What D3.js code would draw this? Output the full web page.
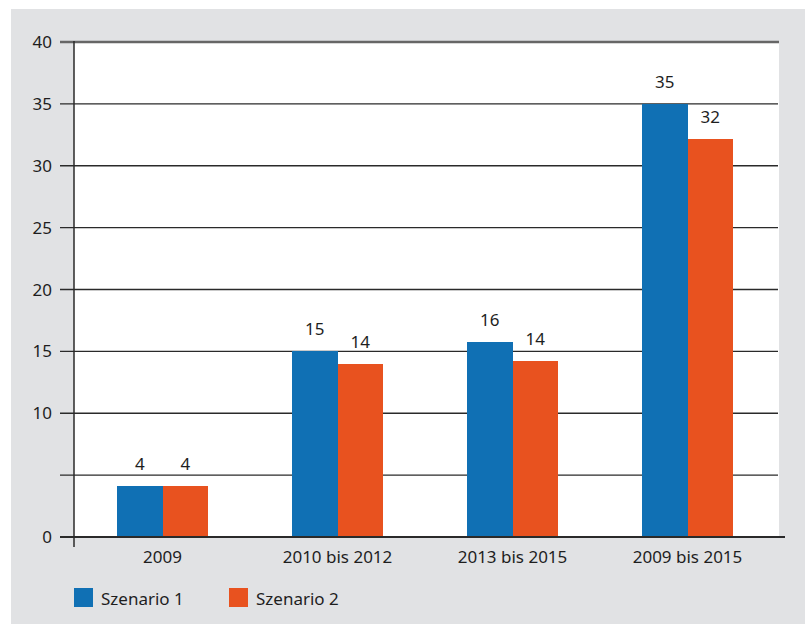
<!DOCTYPE html>
<html>
<head>
<meta charset="utf-8">
<script src="https://cdn.jsdelivr.net/npm/d3@7/dist/d3.min.js"></script>
<style>
  html, body { margin: 0; padding: 0; background: #ffffff; }
  svg { display: block; }
  text { font-family: "Noto Sans", "Open Sans", sans-serif; fill: #1e1e1e; }
</style>
</head>
<body>
<svg id="chart" width="808" height="624"></svg>
<script>
// Periods on the x axis
const categories = ["2009", "2010 bis 2012", "2013 bis 2015", "2009 bis 2015"];
// Scenario values per period
const scenario1 = [4.1, 15.0, 15.75, 35.0];
const scenario2 = [4.1, 14.0, 14.2, 32.15];
const seriesNames = ["Szenario 1", "Szenario 2"];
// Y axis ticks and their labels (the 5 tick carries no label)
const yTicks = [0, 5, 10, 15, 20, 25, 30, 35, 40];
const yTickLabels = ["0", "", "10", "15", "20", "25", "30", "35", "40"];

const colors = ["#1070b4", "#e8521f"];

const svg = d3.select("#chart");

// Panel geometry
const outer = { x: 11, y: 9, w: 794, h: 615 };
const plot = { left: 74, right: 779, top: 42, bottom: 537 };

const y = d3.scaleLinear().domain([0, 40]).range([plot.bottom, plot.top]);
const x0 = d3.scaleBand().domain(categories).range([75, 775]).paddingInner(0).paddingOuter(0);
const groupWidth = 91;
const x1 = d3.scaleBand().domain(seriesNames).range([0, groupWidth]).padding(0);

// Grey frame and white plotting area
svg.append("rect").attr("x", outer.x).attr("y", outer.y).attr("width", outer.w).attr("height", outer.h).attr("fill", "#e1e2e4");
svg.append("rect").attr("x", plot.left).attr("y", plot.top).attr("width", plot.right - plot.left).attr("height", plot.bottom - plot.top).attr("fill", "#ffffff");

// Horizontal gridlines with tick stubs to the left of the axis
const grid = svg.append("g");
yTicks.filter(t => t > 0).forEach(t => {
  grid.append("line")
    .attr("x1", 60).attr("x2", t === 40 ? 779 : 778)
    .attr("y1", y(t)).attr("y2", y(t))
    .attr("stroke", t === 40 ? "#666666" : "#2a2a2a")
    .attr("stroke-width", t === 40 ? 2.4 : 1.4);
});

// Bars
const data = categories.map((c, i) => ({ cat: c, vals: [scenario1[i], scenario2[i]] }));
const groups = svg.append("g").selectAll("g").data(data).join("g")
  .attr("transform", d => `translate(${Math.round(x0(d.cat) + x0.bandwidth() / 2 - groupWidth / 2)},0)`);

groups.selectAll("rect").data(d => d.vals.map((v, k) => ({ v, k })))
  .join("rect")
  .attr("x", d => x1(seriesNames[d.k]))
  .attr("width", x1.bandwidth() + (d => 0)())
  .attr("y", d => y(d.v))
  .attr("height", d => y(0) - y(d.v))
  .attr("fill", d => colors[d.k])
  .attr("shape-rendering", "crispEdges");

// Value labels above bars
groups.selectAll("text").data(d => d.vals.map((v, k) => ({ v, k })))
  .join("text")
  .attr("x", d => x1(seriesNames[d.k]) + x1.bandwidth() / 2)
  .attr("y", d => y(d.v) - 16)
  .attr("text-anchor", "middle")
  .attr("font-size", 17)
  .text(d => d3.format(".0f")(d.v));

// Zero line and vertical axis
svg.append("line").attr("x1", 60).attr("x2", 785).attr("y1", y(0)).attr("y2", y(0))
  .attr("stroke", "#2a2a2a").attr("stroke-width", 2);
svg.append("line").attr("x1", plot.left).attr("x2", plot.left).attr("y1", plot.top - 1).attr("y2", 547)
  .attr("stroke", "#2a2a2a").attr("stroke-width", 1.5);

// Y tick labels
svg.append("g").selectAll("text").data(yTicks).join("text")
  .attr("x", 52)
  .attr("y", d => y(d))
  .attr("dy", "0.36em")
  .attr("text-anchor", "end")
  .attr("font-size", 17)
  .text((d, i) => yTickLabels[i]);

// Category labels
svg.append("g").selectAll("text").data(categories).join("text")
  .attr("x", d => x0(d) + x0.bandwidth() / 2)
  .attr("y", 563)
  .attr("text-anchor", "middle")
  .attr("font-size", 17)
  .text(d => d);

// Legend
const legend = svg.append("g").selectAll("g").data(seriesNames).join("g")
  .attr("transform", (d, i) => `translate(${74 + i * 155},588)`);
legend.append("rect").attr("width", 19).attr("height", 19).attr("fill", (d, i) => colors[i]);
legend.append("text").attr("x", 27).attr("y", 17).attr("font-size", 17).text(d => d);
</script>
</body>
</html>
